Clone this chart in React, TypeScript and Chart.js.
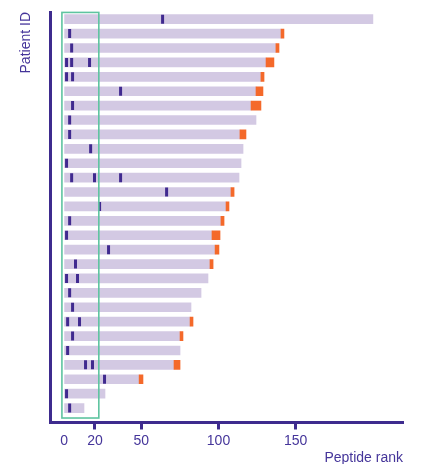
import React, { useEffect, useRef } from 'react';
import { Chart, registerables } from 'chart.js';

Chart.register(...registerables);

// Rows listed top to bottom (one row per patient)
const barEnd = [200.0, 140.5, 137.2, 130.8, 127.5, 124.3, 121.1, 124.3, 113.9, 115.9, 114.6, 113.3, 108.1, 104.9,
  101.6, 95.8, 97.8, 94.5, 93.2, 88.7, 82.2, 81.6, 75.1, 75.1, 71.2, 48.6, 26.5, 12.9];
const extraEnd: (number | null)[] = [null, 142.4, 139.2, 135.9, 129.5, 128.8, 127.5, null, 117.8, null, null, null, 110.1, 106.8,
  103.6, 101.0, 100.3, 96.5, null, null, null, 83.5, 77.0, null, 75.1, 51.1, null, null];
const markerRows = [0, 1, 2, 3, 3, 3, 4, 4, 5, 6, 7, 8, 9, 10, 11, 11, 11, 12, 13, 14, 15, 16, 17, 18, 18, 19, 20,
  21, 21, 22, 23, 24, 24, 25, 26, 27];
const markerRanks = [63.8, 3.6, 4.9, 1.6, 4.9, 16.5, 1.6, 5.5, 36.6, 5.5, 3.6, 3.6, 17.2, 1.6, 4.9, 19.7, 36.6, 66.4,
  23.0, 3.6, 1.6, 28.8, 7.4, 1.6, 8.7, 3.6, 5.5, 2.3, 10.0, 5.5, 2.3, 13.9, 18.4, 26.2, 1.6, 3.6];
const xTickValues = [0, 20, 50, 100, 150];
const highlightX = [-1.4, 22.5];
const highlightY = [0.31, 28.47];

const LAVENDER = '#d3c9e3';
const MARKER = '#402a8f';
const ORANGE = '#f4692a';
const GREEN = '#5ec4a0';
const AXIS = '#3e2b8e';
const TEXT = '#45359a';
const FONT = "'Liberation Sans', Arial, sans-serif";

const N = barEnd.length;
const rowY = (i: number) => N - i;

const highlightPlugin = {
  id: 'highlightBox',
  afterDatasetsDraw(chart: any) {
    const { ctx, scales } = chart;
    const x0 = scales.x.getPixelForValue(highlightX[0]);
    const x1 = scales.x.getPixelForValue(highlightX[1]);
    const y0 = scales.y.getPixelForValue(highlightY[1]);
    const y1 = scales.y.getPixelForValue(highlightY[0]);
    ctx.save();
    ctx.strokeStyle = GREEN;
    ctx.lineWidth = 1.6;
    ctx.strokeRect(x0, y0, x1 - x0, y1 - y0);
    ctx.restore();
  },
};

export default function App() {
  const ref = useRef<HTMLCanvasElement>(null);
  useEffect(() => {
    document.body.style.margin = '0';
    const mainBars = barEnd.map((v, i) => ({ x: [0, v], y: rowY(i) }));
    const extraBars = extraEnd
      .map((v, i) => (v == null ? null : { x: [barEnd[i], v], y: rowY(i) }))
      .filter((d) => d != null);
    const markers = markerRanks.map((r, k) => ({ x: r, y: rowY(markerRows[k]) }));

    const chart = new Chart(ref.current as HTMLCanvasElement, {
      type: 'bar',
      data: {
        datasets: [
          {
            type: 'scatter',
            data: markers,
            pointStyle: 'line',
            rotation: 90,
            radius: 4.5,
            hoverRadius: 4.5,
            borderWidth: 3,
            borderColor: MARKER,
            backgroundColor: MARKER,
            order: 0,
          } as any,
          {
            type: 'bar',
            indexAxis: 'y',
            data: extraBars,
            backgroundColor: ORANGE,
            barThickness: 9,
            grouped: false,
            borderWidth: 0,
            order: 1,
          } as any,
          {
            type: 'bar',
            indexAxis: 'y',
            data: mainBars,
            backgroundColor: LAVENDER,
            barThickness: 9,
            grouped: false,
            borderWidth: 0,
            order: 2,
          } as any,
        ],
      },
      options: {
        indexAxis: 'y',
        animation: false,
        responsive: true,
        maintainAspectRatio: false,
        layout: { padding: { left: 18, right: 19, top: 12, bottom: 0 } },
        plugins: { legend: { display: false }, tooltip: { enabled: false } },
        scales: {
          x: {
            type: 'linear',
            axis: 'x',
            position: 'bottom',
            offset: false,
            min: -8.6,
            max: 219.5,
            afterBuildTicks: (scale: any) => {
              scale.ticks = xTickValues.map((v) => ({ value: v }));
            },
            grid: {
              display: true,
              offset: false,
              drawOnChartArea: false,
              drawTicks: true,
              tickLength: 7,
              tickWidth: 3,
              tickColor: (c: any) => (c.tick && c.tick.value === 0 ? 'rgba(0,0,0,0)' : AXIS),
            },
            border: { display: true, color: AXIS, width: 3 },
            ticks: {
              color: TEXT,
              font: { family: FONT, size: 14, lineHeight: 1 },
              padding: 4.8,
              autoSkip: false,
              maxRotation: 0,
            },
            title: {
              display: true,
              text: 'Peptide rank',
              align: 'end',
              color: TEXT,
              font: { family: FONT, size: 14, lineHeight: 0.78 },
              padding: { top: 0, bottom: 0 },
            },
          },
          y: {
            type: 'linear',
            axis: 'y',
            position: 'left',
            offset: false,
            min: 0,
            max: 28.5,
            grid: { display: false, drawTicks: false, offset: false },
            border: { display: true, color: AXIS, width: 3 },
            ticks: { display: false },
            title: {
              display: true,
              text: 'Patient ID',
              align: 'end',
              color: TEXT,
              font: { family: FONT, size: 14, lineHeight: 1.2 },
              padding: { top: 0, bottom: 16 },
            },
          },
        },
      } as any,
      plugins: [highlightPlugin],
    });
    return () => chart.destroy();
  }, []);
  return (
    <div style={{ width: 422, height: 464, position: 'relative' }}>
      <canvas ref={ref} />
    </div>
  );
}
